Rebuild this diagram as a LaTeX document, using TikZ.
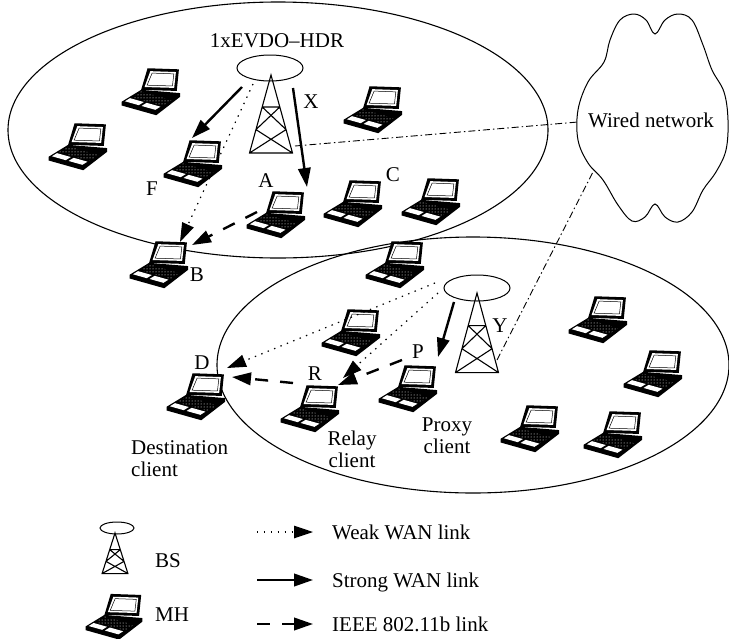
\documentclass[tikz,border=0pt]{standalone}
\usepackage{fontspec}
\setmainfont{Liberation Serif}
\usetikzlibrary{arrows.meta,shapes.geometric,patterns,calc}

\tikzset{
  lbl/.style={font=\fontsize{21}{23}\selectfont, inner sep=0pt, text height=14pt, text depth=0pt},
  caption/.style={font=\fontsize{21}{22}\selectfont, inner sep=0pt, anchor=north},
  cell/.style={draw, line width=1.1pt},
  headtip/.style={-{Triangle[length=19pt,width=12.5pt]}},
  strong/.style={headtip, line width=2.4pt},
  weak/.style={headtip, line width=1.2pt, dash pattern=on 1.4pt off 5.5pt},
  wifi/.style={headtip, line width=2.4pt, dash pattern=on 13pt off 12pt},
  wired/.style={line width=0.9pt, dash pattern=on 7pt off 3pt on 1.5pt off 3pt},
  antenna/.style={ellipse, draw, line width=1pt, minimum width=66pt, minimum height=26pt, inner sep=0pt},
  lapbox/.style={inner sep=0pt, minimum width=58pt, minimum height=47pt},
  % lattice mast, apex at the origin
  tower/.pic={
    \draw[line width=1.1pt, line join=miter]
      (-21.5,78) -- (0,0) -- (21.5,78) -- cycle
      (-8.8,32) -- (8.8,32)
      (-8.8,32) -- (15.05,54.6)
      (8.8,32) -- (-15.05,54.6)
      (-15.05,54.6) -- (21.5,78)
      (15.05,54.6) -- (-21.5,78);
  },
  % notebook computer seen from the front left
  laptop/.pic={
    \fill (-5,-22) -- (24,-21) -- (22,-1) -- (-11,-2) -- cycle;
    \fill[white] (-2.5,-19.3) -- (21.2,-18.5) -- (19.6,-3.8) -- (-7.8,-4.6) -- cycle;
    \draw[line width=0.5pt] (-0.8,-17.5) -- (19.3,-16.8) -- (18,-5.6) -- (-5.5,-6.3) -- cycle;
    \fill (-11,-2) -- (25,1) -- (25,4.5) -- (3,21.5) -- (-29,12.5) -- (-29,9) -- cycle;
    \fill[pattern=dots, pattern color=white] (-19.5,4.9) -- (8.6,12.8) -- (17.3,7.6) -- (-10.9,-0.4) -- cycle;
    \fill[white] (-26,8.6) -- (-13.2,12.2) -- (-8.5,9.3) -- (-21.3,5.7) -- cycle;
    \fill[white] (-10.6,12.9) -- (2.2,16.5) -- (6.9,13.6) -- (-5.9,10.0) -- cycle;
  },
}

\begin{document}
\begin{tikzpicture}[x=1pt,y=-1pt]
\useasboundingbox (0,0) rectangle (729,638);

% coverage areas
\draw[cell] (278,130) ellipse [x radius=270, y radius=128];
\draw[cell] (473,365) ellipse [x radius=256, y radius=128];

% wired network cloud
\draw[line width=1pt] plot[smooth cycle, tension=0.6] coordinates {
  (655,34) (646,20) (634,14) (620,20) (610,40) (604,62) (588,82) (578,110)
  (578,140) (588,163) (603,180) (618,205) (632,221) (645,217) (655,204)
  (665,217) (678,222) (692,212) (703,190) (716,172) (726,150) (728,120)
  (724,92) (712,70) (703,45) (692,20) (678,14) (665,20)};
\node[lbl] (wan) at (651,120) {Wired network};

% base stations
\coordinate (t1) at (271,75);
\pic at (t1) {tower};
\node[antenna] (bs1) at (270,68) {};
\node[lbl] (hdr) at (277,40) {1xEVDO--HDR};

\coordinate (t2) at (477,293);
\pic[yscale=1.02] at (t2) {tower};
\node[antenna] (bs2) at (477,288) {};

% mobile hosts
\foreach \n/\x/\y in {m1/153/92, m2/80/147, F/195/164, m4/375/110, A/278/215,
  C/355/204, m7/433/202, B/161/265, m9/397/265, m10/353/333, D/198/397,
  R/312/409, P/410/389, m14/600/320, m15/655/374, m16/532/429, m17/615/435}
{
  \pic[scale=1.08] at (\x,\y) {laptop};
  \node[lapbox] (\n) at (\x,\y) {};
}

% host labels
\node[lbl] (lF) at (152,188) {F};
\node[lbl] (lA) at (266,180) {A};
\node[lbl] (lB) at (197,274) {B};
\node[lbl] (lC) at (393,174) {C};
\node[lbl] (lX) at (311,101) {X};
\node[lbl] (lD) at (202,362) {D};
\node[lbl] (lR) at (315,373) {R};
\node[lbl] (lP) at (418,351) {P};
\node[lbl] (lY) at (500,325) {Y};
\node[caption, align=left, anchor=north west] (dst) at (131,440) {Destination\\client};
\node[caption, align=center] (rly) at (352,431) {Relay\\client};
\node[caption, align=center] (prx) at (447,418) {Proxy\\client};

% links of the upper cell
\draw[strong] ($(bs1)+(-28,19)$) -- ($(F)+(-3,-26)$);
\draw[weak] ($(bs1)+(-17,16)$) -- ($(B)+(19,-23)$);
\draw[strong] ($(bs1)+(23,20)$) -- ($(A)+(29,-28)$);
\draw[wifi] ($(A)+(-21,-3)$) -- ($(B)+(31,-20)$);
\draw[wired] ($(t1)+(24,71)$) -- ($(wan)+(-73,2)$);

% links of the lower cell
\draw[strong] ($(bs2)+(-23,14)$) -- ($(P)+(28,-32)$);
\draw[weak] ($(bs2)+(-42,-5)$) -- ($(D)+(29,-29)$);
\draw[weak] ($(bs2)+(-39,5)$) -- ($(R)+(31,-31)$);
\draw[wifi] ($(P)+(-8,-29)$) -- ($(R)+(26,-24)$);
\draw[wifi] ($(R)+(-19,-26)$) -- ($(D)+(34,-20)$);
\draw[wired] ($(t2)+(20,67)$) -- ($(wan)+(-57,50)$);

% legend
\pic[xscale=0.6, yscale=0.52] at (115,533) {tower};
\node[antenna, minimum width=34pt, minimum height=12pt] (kbs) at (117,528) {};
\node[lbl, anchor=west] (kbst) at (155,560) {BS};
\pic[scale=1.05] at (116,617) {laptop};
\node[lapbox] (kmh) at (116,617) {};
\node[lbl, anchor=west] (kmht) at (155,614) {MH};

\coordinate (k1a) at (257,532); \coordinate (k1b) at (313,532);
\coordinate (k2a) at (257,580); \coordinate (k2b) at (313,580);
\coordinate (k3a) at (257,624); \coordinate (k3b) at (313,624);
\draw[weak] (k1a) -- (k1b);
\draw[strong] (k2a) -- (k2b);
\draw[wifi] (k3a) -- (k3b);
\node[lbl, anchor=west] (k1) at (332,532) {Weak WAN link};
\node[lbl, anchor=west] (k2) at (332,580) {Strong WAN link};
\node[lbl, anchor=west] (k3) at (332,624) {IEEE 802.11b link};
\end{tikzpicture}
\end{document}
